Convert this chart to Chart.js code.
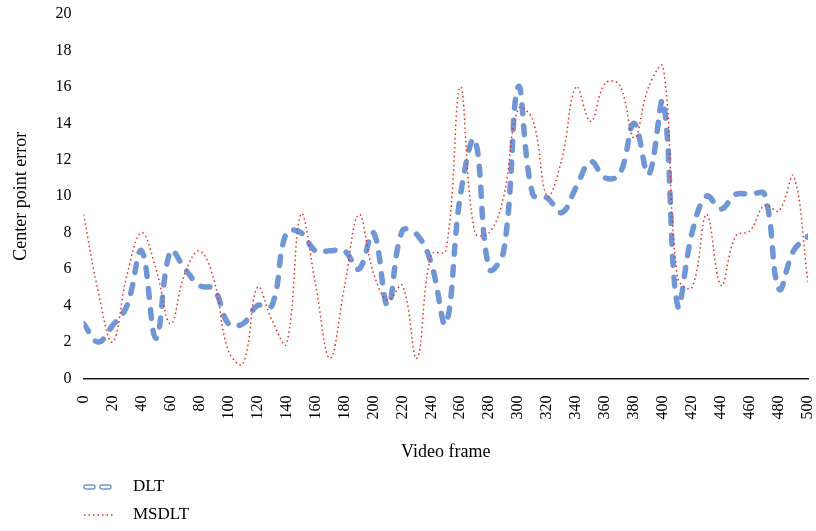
<!DOCTYPE html>
<html>
<head>
<meta charset="utf-8">
<script src="https://cdn.jsdelivr.net/npm/chart.js@4.4.0/dist/chart.umd.min.js"></script>
<style>
  html, body { margin: 0; padding: 0; background: #fff; }
</style>
</head>
<body>
<canvas id="chart" width="816" height="531"></canvas>
<script>
// video frames (x) and the two error series
const frames = [0, 10, 20, 30, 40, 50, 60, 70, 80, 90, 100, 110, 120, 130, 140, 150, 160, 170, 180, 190,
  200, 210, 220, 230, 240, 250, 260, 270, 280, 290, 300, 310, 320, 330, 340, 350, 360, 370, 380, 390,
  400, 410, 420, 430, 440, 450, 460, 470, 480, 490, 500];
const dltError = [3.0, 2.0, 2.9, 4.0, 7.0, 2.2, 7.0, 6.0, 5.1, 4.9, 3.0, 3.0, 4.0, 4.0, 8.0, 8.0, 7.0, 7.0, 7.0, 6.0,
  8.0, 4.0, 8.1, 7.9, 6.3, 3.0, 10.0, 13.1, 6.0, 7.0, 16.0, 10.1, 9.9, 9.1, 10.5, 11.9, 11.0, 11.2, 14.0, 11.2,
  15.2, 4.0, 8.0, 10.0, 9.3, 10.1, 10.1, 10.1, 4.9, 7.0, 7.8];
const msdltError = [9.0, 4.8, 2.0, 5.7, 8.0, 6.0, 3.0, 5.8, 7.0, 5.4, 1.5, 0.8, 5.0, 3.2, 1.9, 9.0, 5.2, 1.1, 5.0, 9.0,
  5.8, 4.3, 5.1, 1.1, 6.8, 7.0, 16.0, 8.0, 8.0, 10.0, 14.8, 14.2, 10.0, 12.0, 16.0, 14.1, 16.2, 16.1, 13.2, 16.0,
  17.1, 5.5, 5.0, 9.0, 5.1, 7.8, 8.1, 9.5, 9.2, 11.1, 5.3];
const seriesNames = ['DLT', 'MSDLT'];

const BLUE = '#7196d6';
const RED = '#e8291f';
const FONT = '"Liberation Serif", "Times New Roman", serif';

function toPoints(vals) {
  return vals.map((v, i) => ({ x: frames[i], y: v }));
}

// legend drawn below the axis title, one item per row
const legendBelow = {
  id: 'legendBelow',
  afterDraw(chart) {
    const ctx = chart.ctx;
    ctx.save();
    // DLT: blue capsule dashes with white core
    let y = 487;
    ctx.lineCap = 'round';
    ctx.setLineDash([7, 9]);
    ctx.strokeStyle = BLUE; ctx.lineWidth = 5.5;
    ctx.beginPath(); ctx.moveTo(86, y); ctx.lineTo(112, y); ctx.stroke();
    ctx.strokeStyle = '#fff'; ctx.lineWidth = 2.5;
    ctx.beginPath(); ctx.moveTo(86, y); ctx.lineTo(112, y); ctx.stroke();
    // MSDLT: red dots
    y = 515;
    ctx.lineCap = 'butt';
    ctx.setLineDash([1.5, 3]);
    ctx.strokeStyle = RED; ctx.lineWidth = 1.5;
    ctx.beginPath(); ctx.moveTo(84, y); ctx.lineTo(113, y); ctx.stroke();
    ctx.setLineDash([]);
    ctx.fillStyle = '#000';
    ctx.font = '17px ' + FONT;
    ctx.textBaseline = 'middle';
    ctx.fillText(seriesNames[0], 133, 487);
    ctx.fillText(seriesNames[1], 133, 515);
    ctx.restore();
  }
};

const ctx = document.getElementById('chart').getContext('2d');
new Chart(ctx, {
  type: 'line',
  data: {
    datasets: [
      {
        label: seriesNames[1],
        data: toPoints(msdltError),
        borderColor: RED,
        borderWidth: 1.5,
        borderDash: [1.5, 3],
        pointRadius: 0,
        tension: 0.4,
        fill: false
      },
      {
        label: seriesNames[0],
        data: toPoints(dltError),
        borderColor: BLUE,
        borderWidth: 5.5,
        borderDash: [9, 12],
        borderCapStyle: 'round',
        pointRadius: 0,
        tension: 0.4,
        fill: false
      },
      {
        label: 'DLT core',
        data: toPoints(dltError),
        borderColor: '#ffffff',
        borderWidth: 2.5,
        borderDash: [9, 12],
        borderCapStyle: 'round',
        pointRadius: 0,
        tension: 0.4,
        fill: false
      }
    ]
  },
  options: {
    responsive: false,
    animation: false,
    layout: { padding: { top: 0, left: 10, right: 0, bottom: 68 } },
    plugins: {
      legend: { display: false },
      tooltip: { enabled: false }
    },
    scales: {
      x: {
        type: 'linear',
        min: 0,
        max: 500,
        afterFit(scale) { scale.paddingLeft = 0; scale.paddingRight = 8; },
        grid: { display: false, drawTicks: false },
        border: { display: true, color: '#1a1a1a', width: 1.5 },
        ticks: {
          stepSize: 20,
          minRotation: 90,
          maxRotation: 90,
          padding: 17,
          color: '#000',
          font: { family: FONT, size: 16 }
        },
        title: {
          display: true,
          text: 'Video frame',
          color: '#000',
          font: { family: FONT, size: 18 },
          padding: { top: 5, bottom: 0 }
        }
      },
      y: {
        min: 0,
        max: 20,
        afterFit(scale) { scale.paddingTop = 14; scale.paddingBottom = 0; },
        grid: { display: false, drawTicks: false },
        border: { display: false },
        ticks: {
          stepSize: 2,
          padding: 12,
          color: '#000',
          font: { family: FONT, size: 16 }
        },
        title: {
          display: true,
          text: 'Center point error',
          color: '#000',
          font: { family: FONT, size: 18 },
          padding: { top: 0, bottom: 12 }
        }
      }
    }
  },
  plugins: [legendBelow]
});
</script>
</body>
</html>
